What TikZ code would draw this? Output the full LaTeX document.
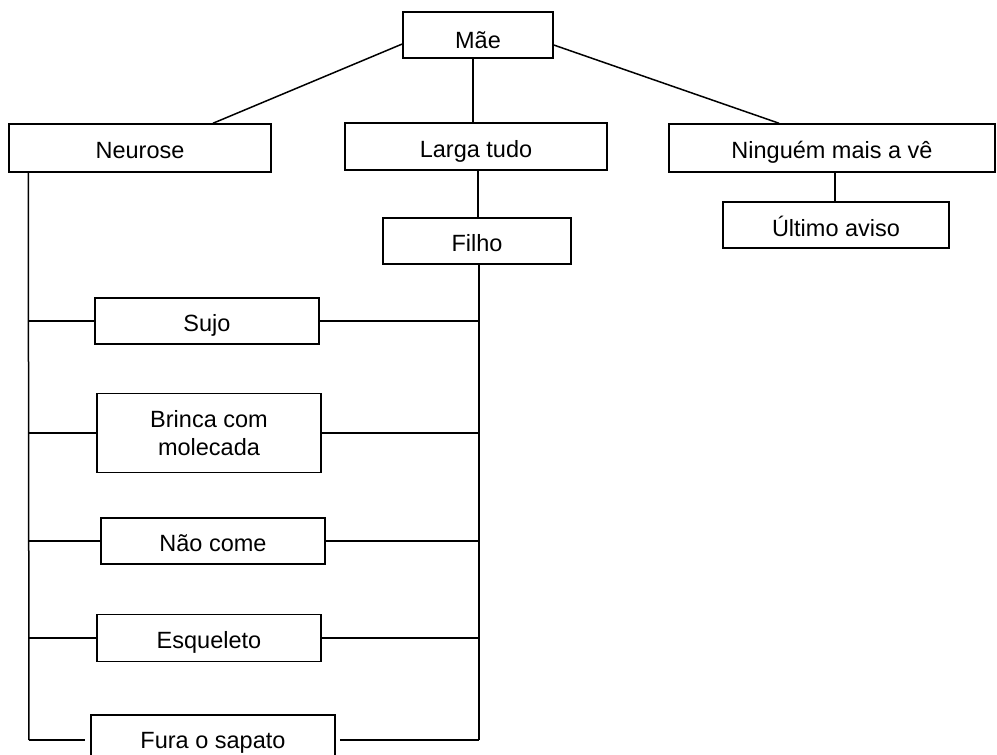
\documentclass[tikz,border=0pt]{standalone}
\usepackage{fontspec}
\setmainfont{Liberation Sans}
\begin{document}
\begin{tikzpicture}[x=1pt,y=-1pt,
  every node/.style={font=\fontsize{23.5}{28}\selectfont},
  box/.style={draw, line width=1.5pt, inner sep=0pt, text height=21.8pt, text depth=0pt},
  tallbox/.style={draw, line width=1.5pt, inner sep=0pt, align=center},
  link/.style={line width=1.5pt}]
  \path[use as bounding box, clip] (0,0) rectangle (997,755);

  % top levels
  \node[box, text height=26.8pt, minimum width=150pt, minimum height=46pt] (mae) at (478,35) {Mãe};
  \node[box, minimum width=262pt, minimum height=48pt] (neurose) at (140,148) {Neurose};
  \node[box, minimum width=262pt, minimum height=47pt] (larga) at (476,146.5) {Larga tudo};
  \node[box, minimum width=326pt, minimum height=48pt] (ninguem) at (832,148) {Ninguém mais a vê};
  \node[box, minimum width=188pt, minimum height=46pt] (filho) at (477,241) {Filho};
  \node[box, text height=23.5pt, minimum width=226pt, minimum height=46pt] (ultimo) at (836,225) {Último aviso};

  % middle column
  \node[box, minimum width=224pt, minimum height=46pt] (sujo) at (207,321) {Sujo};
  \node[tallbox, minimum width=224pt, minimum height=79pt] (brinca) at (209,433) {Brinca com\\molecada};
  \node[box, minimum width=224pt, minimum height=46pt] (naocome) at (213,541) {Não come};
  \node[box, minimum width=224pt, minimum height=47pt] (esqueleto) at (209,638) {Esqueleto};
  \node[box, minimum width=244pt, minimum height=46pt] (fura) at (213,738) {Fura o sapato};

  % connectors from the root
  \draw[link] ([yshift=-9pt]mae.west) -- ([xshift=73pt]neurose.north);
  \draw[link] ([xshift=-5pt]mae.south) -- ([xshift=-5pt]mae.south |- larga.north);
  \draw[link] ([yshift=-10pt]mae.east) -- ([xshift=-53pt]ninguem.north);
  \draw[link] ([xshift=2pt]larga.south) -- ([xshift=2pt]larga.south |- filho.north);
  \draw[link] ([xshift=3pt]ninguem.south) -- ([xshift=3pt]ninguem.south |- ultimo.north);

  % two spines
  \coordinate (ltop) at ([xshift=20pt]neurose.south west);
  \coordinate (lbot) at (29,740);
  \coordinate (rtop) at ([xshift=2pt]filho.south);
  \coordinate (rbot) at (479,740);
  \draw[link] (ltop) -- (lbot);
  \draw[link] (rtop) -- (rbot);

  % branches
  \foreach \n in {sujo,brinca,naocome,esqueleto}{
    \draw[link] (\n.west -| ltop) -- (\n.west);
    \draw[link] (\n.east) -- (\n.east -| rtop);
  }
  \draw[link, shorten >=5pt] (lbot) -- (lbot -| fura.west);
  \draw[link, shorten <=4pt] (fura.east |- rbot) -- (rbot);
\end{tikzpicture}
\end{document}
